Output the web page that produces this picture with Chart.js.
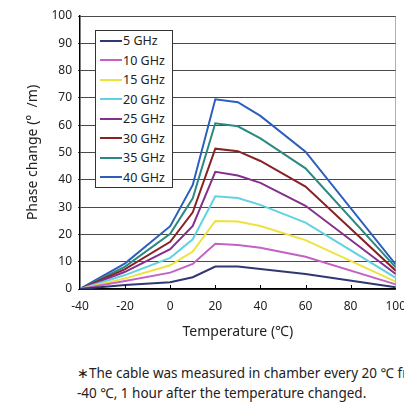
<!DOCTYPE html>
<html>
<head>
<meta charset="utf-8">
<script src="https://cdn.jsdelivr.net/npm/chart.js@4"></script>
<style>
    body { margin: 0; background: #fff; overflow: hidden; font-family: "Noto Sans", sans-serif; }
    #wrap { position: relative; width: 404px; height: 410px; overflow: hidden; }
    #phaseChart { position: absolute; left: 0; top: 0; }
    #legend { position: absolute; left: 95px; top: 30px; width: 76px; height: 156px; border: 1px solid #333; background: #fff; }
    .row { display: flex; align-items: center; height: 19.5px; font-size: 12.5px; color: #222; }
    .row span.swatch { display: inline-block; width: 22px; height: 2px; margin-left: 4px; margin-right: 1px; }
    #note { position: absolute; left: 77px; top: 363px; font-size: 13.5px; line-height: 20px; color: #222; white-space: nowrap; }
</style>
</head>
<body>
<div id="wrap">
    <canvas id="phaseChart" width="416" height="345"></canvas>
    <div id="legend"></div>
    <div id="note">∗The cable was measured in chamber every 20 ℃ from<br>-40 ℃, 1 hour after the temperature changed.</div>
</div>
<script>
// temperatures (°C) where the cable was measured
const temps = [-40, -20, 0, 10, 20, 30, 40, 60, 100];

// phase change (°/m) per frequency
const ghz5  = [0, 1.5, 2.5, 4.3, 8.2, 8.2, 7.3, 5.5, 0.6];
const ghz10 = [0, 2.9, 6.0, 9.2, 16.6, 16.1, 15.1, 11.8, 1.7];
const ghz15 = [0, 3.9, 8.7, 13.7, 24.9, 24.7, 23.1, 17.9, 2.7];
const ghz20 = [0, 5.1, 11.4, 18.2, 34.0, 33.3, 30.8, 24.3, 4.1];
const ghz25 = [0, 6.3, 14.6, 23.1, 42.9, 41.6, 38.9, 30.5, 5.5];
const ghz30 = [0, 7.3, 17.3, 28.1, 51.4, 50.5, 46.9, 37.5, 6.7];
const ghz35 = [0, 8.2, 20.2, 33.2, 60.7, 59.6, 55.2, 44.2, 7.9];
const ghz40 = [0, 9.4, 23.0, 38.1, 69.5, 68.4, 63.4, 50.3, 9.0];

const labels = ["5 GHz", "10 GHz", "15 GHz", "20 GHz", "25 GHz", "30 GHz", "35 GHz", "40 GHz"];
const colors = ["#2f3870", "#c462c4", "#eee23c", "#62d2e2", "#84308c", "#8a2224", "#2a8a82", "#2b5fbd"];
const series = [ghz5, ghz10, ghz15, ghz20, ghz25, ghz30, ghz35, ghz40];

const fontFamily = '"Noto Sans", sans-serif';
const textColor = "#222";

// small ticks pointing up into the plot on the x axis
const innerTicks = {
    id: "innerTicks",
    afterDraw(chart) {
        const ctx = chart.ctx;
        const x = chart.scales.x;
        const bottom = chart.chartArea.bottom;
        ctx.save();
        ctx.strokeStyle = "#000";
        ctx.lineWidth = 1;
        x.ticks.forEach(t => {
            if (t.value === -40 || t.value === 100) return;
            const px = Math.round(x.getPixelForValue(t.value)) + 0.5;
            ctx.beginPath();
            ctx.moveTo(px, bottom);
            ctx.lineTo(px, bottom - 4);
            ctx.stroke();
        });
        ctx.restore();
    }
};

const ctx = document.getElementById("phaseChart").getContext("2d");
const chart = new Chart(ctx, {
    type: "line",
    data: {
        datasets: series.map((vals, i) => ({
            label: labels[i],
            data: temps.map((t, j) => ({ x: t, y: vals[j] })),
            borderColor: colors[i],
            backgroundColor: colors[i],
            borderWidth: 2,
            pointRadius: 0,
            tension: 0,
            fill: false
        }))
    },
    options: {
        responsive: false,
        animation: false,
        devicePixelRatio: 1,
        layout: { padding: { top: 16, left: 0, right: 0, bottom: 0 } },
        plugins: {
            legend: { display: false },
            tooltip: { enabled: false }
        },
        scales: {
            x: {
                type: "linear",
                min: -40,
                max: 100,
                afterFit: scale => { scale.height = 56; },
                ticks: { stepSize: 20, padding: 10, color: textColor, font: { family: fontFamily, size: 12 } },
                grid: {
                    drawTicks: false,
                    color: c => (c.tick && c.tick.value === 100) ? "#b0b0b0" : "rgba(0,0,0,0)"
                },
                border: { color: "#000", width: 1.5 },
                title: {
                    display: true,
                    text: "Temperature (℃)",
                    color: textColor,
                    font: { family: fontFamily, size: 14 },
                    padding: { top: 0, bottom: 5 }
                }
            },
            y: {
                min: 0,
                max: 100,
                afterFit: scale => { scale.width = 80; },
                ticks: { stepSize: 10, padding: 6, color: textColor, font: { family: fontFamily, size: 12 } },
                grid: { color: "#4a4a4a", tickLength: 2 },
                border: { color: "#000", width: 1.5 },
                title: {
                    display: true,
                    text: "Phase change (°  /m)",
                    color: textColor,
                    font: { family: fontFamily, size: 14 },
                    padding: { top: 25, bottom: 0 }
                }
            }
        }
    },
    plugins: [innerTicks]
});

// legend box drawn over the plot, built from the same arrays
const legendBox = document.getElementById("legend");
labels.forEach((name, i) => {
    const row = document.createElement("div");
    row.className = "row";
    row.innerHTML = `<span class="swatch" style="background:${colors[i]}"></span>${name}`;
    legendBox.appendChild(row);
});
</script>
</body>
</html>
